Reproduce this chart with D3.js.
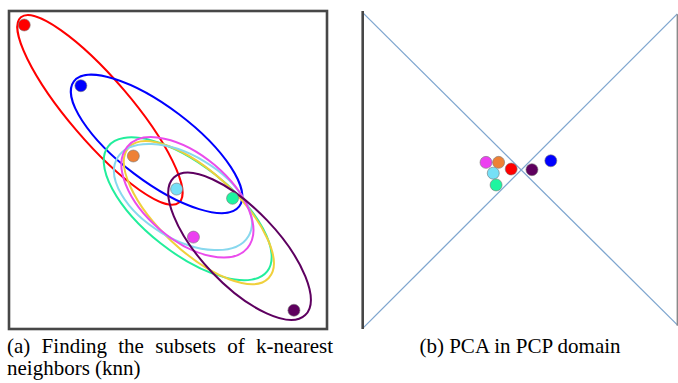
<!DOCTYPE html>
<html>
<head>
<meta charset="utf-8">
<script src="https://cdn.jsdelivr.net/npm/d3@7"></script>
<style>
	body { margin: 0; background: #fff; }
	svg { display: block; }
</style>
</head>
<body>
<div id="fig"></div>
<script>
// (a) points and the knn subset found for each one
const cats = ["red", "blue", "orange", "cyan", "green", "magenta", "purple"];
const knnX = [0.48, 2.26, 3.91, 5.27, 7.03, 5.80, 8.96];
const knnY = [9.56, 7.65, 5.44, 4.40, 4.11, 2.89, 0.59];

// one ellipse per subset (center, semi axes, angle in degrees)
const ellCat = ["red", "blue", "green", "orange", "cyan", "magenta", "purple"];
const ellCx = [2.86, 4.64, 5.62, 5.97, 5.47, 5.61, 7.25];
const ellCy = [6.89, 5.82, 3.78, 3.66, 4.15, 4.14, 2.60];
const ellA = [3.83, 3.26, 3.18, 3.01, 2.40, 2.47, 2.99];
const ellB = [0.98, 1.17, 1.38, 1.24, 1.31, 1.33, 1.19];
const ellAngle = [-49.5, -37.1, -38.2, -43.1, -30.9, -40.2, -46.3];

// (b) same subsets as points in the pcp domain
const pcpX = [0.472, 0.598, 0.432, 0.415, 0.424, 0.392, 0.538];
const pcpY = [5.03, 5.29, 5.24, 4.90, 4.53, 5.24, 5.01];
// the two lines between the pcp axes
const lineLeft = [9.95, 0.02];
const lineRight = [0.13, 9.91];

const captions = ["(a) Finding the subsets of k-nearest", "neighbors (knn)", "(b) PCA in PCP domain"];

const pointColor = {
	red: "#ff0000", blue: "#0000ff", orange: "#ee8136", cyan: "#76e0f7",
	green: "#1ef5a0", magenta: "#ec40f0", purple: "#5e005e" };
const ellColor = {
	red: "#ff0000", blue: "#0000ff", orange: "#f0d03c", cyan: "#88d8ee",
	green: "#22ee9c", magenta: "#ea4cec", purple: "#5e0060" };

App = {};

App.run = function() {
	const width = 678;
	const height = 383;

	const svg = d3
		.select("#fig")
		.append("svg")
			.attr("width", width)
			.attr("height", height)
		;

	// left panel
	const xA = d3.scaleLinear().domain([0, 10]).range([9, 327]);
	const yA = d3.scaleLinear().domain([0, 10]).range([329, 11]);
	const unit = xA(1) - xA(0);

	const left = svg.append("g");

	left.append("rect")
		.attr("x", xA(0))
		.attr("y", yA(10))
		.attr("width", xA(10) - xA(0))
		.attr("height", yA(0) - yA(10))
		.attr("fill", "none")
		.attr("stroke", "#474747")
		.attr("stroke-width", 2.6)
		;

	const ells = ellCat.map((c, i) => ({
		c: c, cx: ellCx[i], cy: ellCy[i], a: ellA[i], b: ellB[i], ang: ellAngle[i] }));

	left.selectAll("ellipse.knn")
		.data(ells)
		.join("ellipse")
			.attr("class", "knn")
			.attr("transform", d => `translate(${xA(d.cx)},${yA(d.cy)}) rotate(${-d.ang})`)
			.attr("rx", d => d.a * unit)
			.attr("ry", d => d.b * unit)
			.attr("fill", "none")
			.attr("stroke", d => ellColor[d.c])
			.attr("stroke-width", 2)
		;

	const pts = cats.map((c, i) => ({ c: c, x: knnX[i], y: knnY[i], px: pcpX[i], py: pcpY[i] }));

	left.selectAll("circle")
		.data(pts)
		.join("circle")
			.attr("cx", d => xA(d.x))
			.attr("cy", d => yA(d.y))
			.attr("r", 6)
			.attr("fill", d => pointColor[d.c])
			.attr("stroke", "#777")
			.attr("stroke-width", 0.6)
		;

	// right panel, two parallel axes
	const xB = d3.scaleLinear().domain([0, 1]).range([362.7, 677.3]);
	const yB = d3.scaleLinear().domain([0, 10]).range([329, 11]);

	const right = svg.append("g");

	right.selectAll("line.pcp")
		.data(lineLeft.map((v, i) => [v, lineRight[i]]))
		.join("line")
			.attr("class", "pcp")
			.attr("x1", xB(0))
			.attr("y1", d => yB(d[0]))
			.attr("x2", xB(1))
			.attr("y2", d => yB(d[1]))
			.attr("stroke", "#7fa6cf")
			.attr("stroke-width", 1.3)
		;

	right.append("line")
		.attr("x1", xB(0)).attr("x2", xB(0))
		.attr("y1", yB(0)).attr("y2", yB(10))
		.attr("stroke", "#474747")
		.attr("stroke-width", 2.6)
		;
	right.append("line")
		.attr("x1", xB(1)).attr("x2", xB(1))
		.attr("y1", yB(0.1)).attr("y2", yB(9.9))
		.attr("stroke", "#8a8a8a")
		.attr("stroke-width", 1.4)
		;

	right.selectAll("circle")
		.data(pts)
		.join("circle")
			.attr("cx", d => xB(d.px))
			.attr("cy", d => yB(d.py))
			.attr("r", 6)
			.attr("fill", d => pointColor[d.c])
			.attr("stroke", "#777")
			.attr("stroke-width", 0.6)
		;

	// captions, first line justified like the paper
	const font = "'Liberation Serif', 'Times New Roman', serif";
	const capA1 = svg.append("text")
		.attr("x", 7)
		.attr("y", 353)
		.attr("font-family", font)
		.attr("font-size", 21)
		.text(captions[0])
		;
	const natural = capA1.node().getComputedTextLength();
	const gaps = captions[0].split(" ").length - 1;
	capA1.attr("word-spacing", Math.max(0, (333 - 7 - natural) / gaps));

	svg.append("text")
		.attr("x", 7)
		.attr("y", 375)
		.attr("font-family", font)
		.attr("font-size", 21)
		.text(captions[1])
		;

	svg.append("text")
		.attr("x", 520)
		.attr("y", 353)
		.attr("text-anchor", "middle")
		.attr("font-family", font)
		.attr("font-size", 21)
		.text(captions[2])
		;
}

window.onload = function() {
	App.run();
}
</script>
</body>
</html>
